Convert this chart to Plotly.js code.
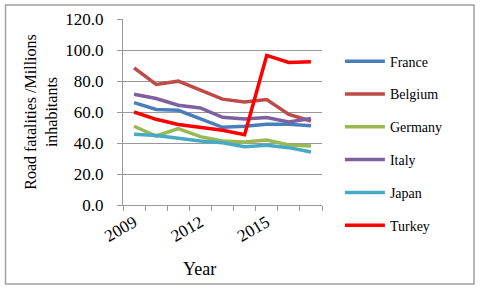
<!DOCTYPE html>
<html>
<head>
<meta charset="utf-8">
<script src="https://cdn.plot.ly/plotly-3.0.1.min.js"></script>
<style>html,body{margin:0;padding:0;background:#fff;}#chart{width:480px;height:290px;}</style>
</head>
<body>
<div id="chart"></div>
<script>
const years = [2009, 2010, 2011, 2012, 2013, 2014, 2015, 2016, 2017];
const yearLabels = ["2009", "2012", "2015"];
const yearLabelVals = [2009, 2012, 2015];
const france  = [66.1, 61.6, 61.1, 55.8, 50.1, 50.8, 52.1, 52.1, 51.2];
const belgium = [88.5, 77.8, 79.9, 73.9, 68.3, 66.5, 68.1, 58.4, 54.2];
const germany = [50.8, 44.5, 49.3, 44.1, 41.3, 40.7, 41.9, 38.7, 38.0];
const italy   = [71.5, 68.7, 64.4, 62.6, 56.6, 55.5, 56.4, 53.6, 55.8];
const japan   = [45.6, 44.8, 43.0, 41.3, 40.2, 37.6, 38.5, 37.0, 34.2];
const turkey  = [60.0, 55.3, 51.9, 50.1, 48.2, 45.4, 96.5, 92.0, 92.4];
const seriesNames = ["France", "Belgium", "Germany", "Italy", "Japan", "Turkey"];
const seriesValues = [france, belgium, germany, italy, japan, turkey];
const seriesColors = ["#4A7EBB", "#BE4B48", "#98B954", "#7D60A0", "#46AAC5", "#FF0000"];

const traces = seriesNames.map((n, i) => ({
  x: years, y: seriesValues[i], name: n, type: 'scatter', mode: 'lines',
  legendgroup: n,
  line: {color: seriesColors[i], width: 3.5}
}));

const font = "Liberation Serif";
const layout = {
  width: 480, height: 290,
  margin: {l: 123, r: 158, t: 19, b: 85},
  paper_bgcolor: '#fff', plot_bgcolor: '#fff',
  font: {family: font, color: '#000'},
  showlegend: true,
  legend: {x: 1.09, xanchor: 'left', y: 0.857, yanchor: 'top', maxheight: 290,
           font: {family: font, size: 14, color: '#000'},
           tracegroupgap: 11.6, itemwidth: 40, bgcolor: 'rgba(0,0,0,0)'},
  xaxis: {
    range: [2008.5, 2017.5], showgrid: false, zeroline: false,
    showline: true, linecolor: '#999', linewidth: 1,
    tickmode: 'array', tickvals: yearLabelVals, ticktext: yearLabels,
    ticks: '', tickangle: -30,
    tickfont: {family: font, size: 17, color: '#000'},
    minor: {tick0: 2008.5, dtick: 1, ticks: 'outside', ticklen: 5, tickcolor: '#999', showgrid: false}
  },
  yaxis: {
    range: [0, 120], dtick: 20, tickformat: '.1f',
    showgrid: true, gridcolor: '#999', gridwidth: 1,
    zeroline: false, showline: true, linecolor: '#999', linewidth: 1,
    ticks: 'outside', ticklen: 5, tickcolor: '#999', ticklabelstandoff: 10,
    tickfont: {family: font, size: 17, color: '#000'},
    title: {text: 'Road fatalities /Millions<br>inhabitants', font: {family: font, size: 16, color: '#000'}, standoff: 3}
  },
  annotations: [{
    text: 'Year', xref: 'paper', yref: 'paper', x: (199 - 123) / 199, y: -(269 - 205) / 186,
    xanchor: 'center', yanchor: 'middle', showarrow: false,
    font: {family: font, size: 18, color: '#000'}
  }],
  shapes: [{
    type: 'rect', xref: 'paper', yref: 'paper',
    x0: (5.5 - 123) / 199, x1: (474 - 123) / 199,
    y0: (205 - 284) / 186, y1: (205 - 5) / 186,
    line: {color: '#A0A0A0', width: 1.5}, layer: 'below'
  }]
};
Plotly.newPlot('chart', traces, layout, {displayModeBar: false, staticPlot: true});
</script>
</body>
</html>
